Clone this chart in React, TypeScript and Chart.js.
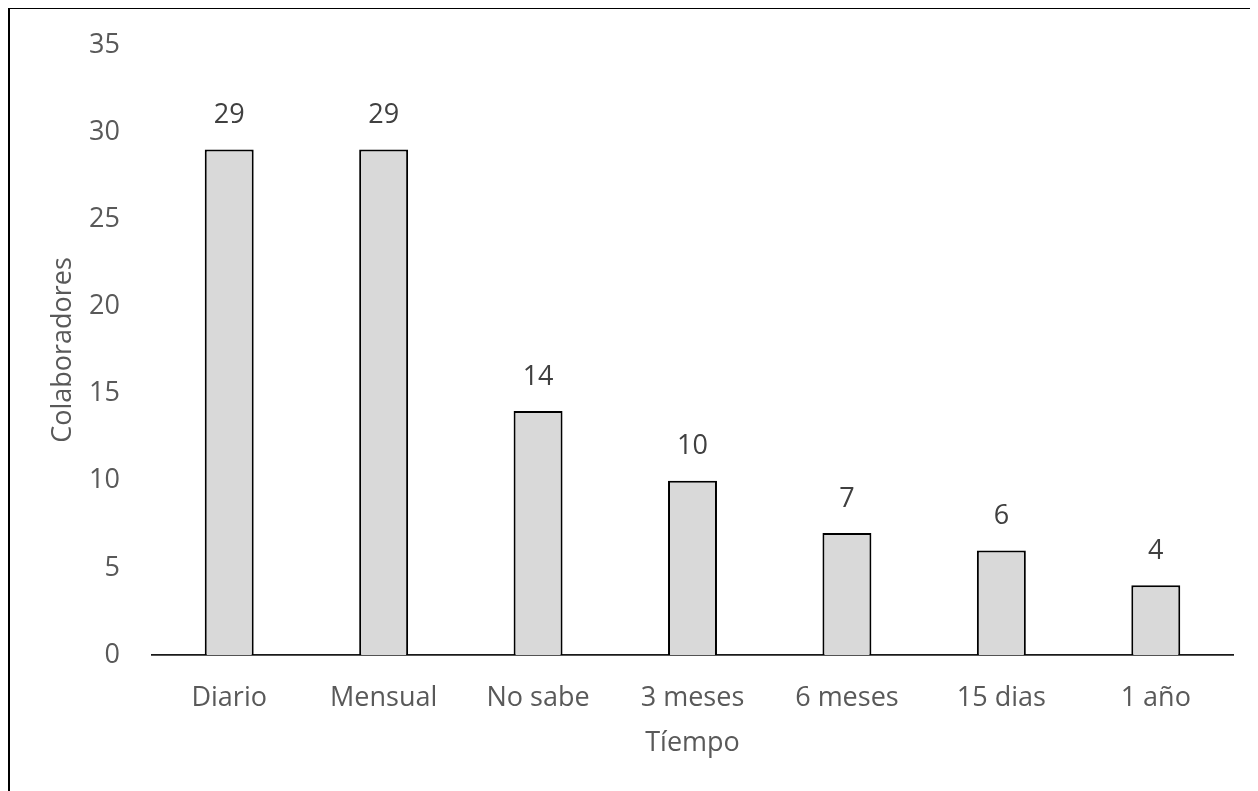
import React, { useEffect, useRef } from "react";
import { Chart, registerables } from "chart.js";

Chart.register(...registerables);

const categories = ["Diario", "Mensual", "No sabe", "3 meses", "6 meses", "15 dias", "1 año"];
const colaboradores = [29, 29, 14, 10, 7, 6, 4];
const yTicks = [0, 5, 10, 15, 20, 25, 30, 35];

const FONT = "'Open Sans', 'Noto Sans', sans-serif";
const W = 1250;
const H = 784;

// Frame lines along the left and top edges of the chart area
const framePlugin = {
  id: "frame",
  afterDraw(chart: any) {
    const ctx = chart.ctx;
    ctx.save();
    ctx.strokeStyle = "#000";
    ctx.lineWidth = 2;
    ctx.beginPath();
    ctx.moveTo(1, H);
    ctx.lineTo(1, 1);
    ctx.lineTo(W, 1);
    ctx.stroke();
    ctx.restore();
  },
};

// Value labels above each bar
const valueLabels = {
  id: "valueLabels",
  afterDatasetsDraw(chart: any) {
    const ctx = chart.ctx;
    const meta = chart.getDatasetMeta(0);
    ctx.save();
    ctx.fillStyle = "#404040";
    ctx.font = `27px ${FONT}`;
    ctx.textAlign = "center";
    ctx.textBaseline = "middle";
    meta.data.forEach((bar: any, i: number) => {
      ctx.fillText(String(colaboradores[i]), bar.x, bar.y - 34);
    });
    ctx.restore();
  },
};

export default function App() {
  const ref = useRef<HTMLCanvasElement>(null);

  useEffect(() => {
    if (!ref.current) return;
    const chart = new Chart(ref.current, {
      type: "bar",
      data: {
        labels: categories,
        datasets: [
          {
            data: colaboradores,
            backgroundColor: "#d9d9d9",
            borderColor: "#000",
            borderWidth: 2,
            barPercentage: 1,
            categoryPercentage: 0.317,
          },
        ],
      },
      options: {
        responsive: false,
        animation: false,
        devicePixelRatio: 1,
        layout: { padding: { left: 0, right: 25, top: 38, bottom: 0 } },
        plugins: {
          legend: { display: false },
          tooltip: { enabled: false },
        },
        scales: {
          x: {
            grid: { display: false, drawTicks: false },
            border: { display: true, color: "#1a1a1a", width: 1.8 },
            ticks: {
              color: "#595959",
              font: { family: FONT, size: 27 },
              padding: 27,
              maxRotation: 0,
            },
            title: {
              display: true,
              text: "Tíempo",
              color: "#595959",
              font: { family: FONT, size: 27 },
              padding: { top: 0, bottom: 31 },
            },
            afterFit(scale: any) {
              scale.height = 136;
              scale.paddingLeft = 0;
              scale.paddingRight = 0;
            },
          },
          y: {
            min: 0,
            max: 35,
            afterBuildTicks(scale: any) {
              scale.ticks = yTicks.map((v) => ({ value: v }));
            },
            grid: { display: false, drawTicks: false },
            border: { display: false },
            ticks: {
              color: "#595959",
              font: { family: FONT, size: 27 },
              padding: 32,
            },
            title: {
              display: true,
              text: "Colaboradores",
              color: "#595959",
              font: { family: FONT, size: 27 },
              padding: { top: 39, bottom: 0 },
            },
            afterFit(scale: any) {
              scale.width = 144;
              scale.paddingTop = 0;
              scale.paddingBottom = 0;
            },
          },
        },
      },
      plugins: [valueLabels, framePlugin],
    });
    return () => chart.destroy();
  }, []);

  return (
    <canvas
      ref={ref}
      width={W}
      height={H}
      style={{ display: "block", width: W, height: H, marginTop: -1 }}
    />
  );
}
